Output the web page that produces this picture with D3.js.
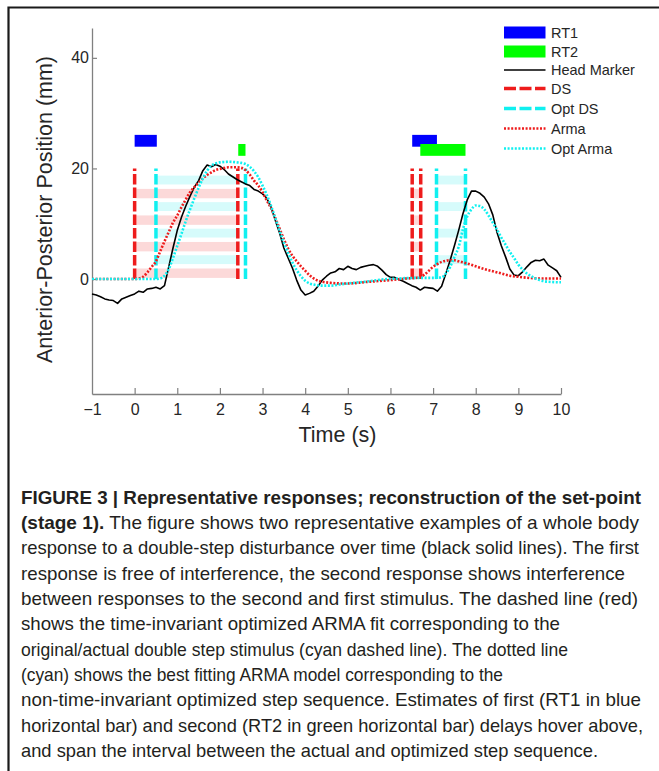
<!DOCTYPE html>
<html><head><meta charset="utf-8">
<script src="https://cdn.jsdelivr.net/npm/d3@7"></script>
<style>
body{margin:0;background:#fff;}
svg{display:block;}
text{font-family:"Liberation Sans",Arial,Helvetica,sans-serif;}
</style></head>
<body>
<script>
// ---------------- data ----------------
const xTicks = [-1,0,1,2,3,4,5,6,7,8,9,10];
const yTicks = [0,20,40];

const headT = d3.range(0,111).map(i=>+(-1+i*0.1).toFixed(1));
const headV = [
 -2.7,-2.9,-3.2,-3.6,-3.8,-3.9,-4.4,-3.6,-3.3,-3.0,
 -2.7,-2.2,-2.4,-1.8,-1.7,-1.5,-1.8,-1.2, 2.2, 5.6,
  8.8,11.2,13.2,15.0,16.6,17.8,19.6,20.6,20.3,20.7,
 20.4,19.8,19.0,18.5,18.0,17.6,17.2,16.9,16.2,15.9,
 15.4,14.6,13.0,10.6, 8.3, 5.6, 3.8, 2.0,-0.2,-2.0,
 -2.9,-2.6,-2.2,-1.3,-0.2, 0.5, 1.1, 1.3, 1.9, 1.7,
  2.3, 1.9, 1.7, 2.1, 2.3, 2.5, 2.6, 2.3, 1.6, 0.8,
  0.3, 0.3,-0.1,-0.4,-0.8,-1.2,-1.5,-2.0,-1.5,-1.6,
 -1.7,-2.2,-1.3, 1.0, 3.4, 6.0, 8.8,11.8,14.3,15.9,
 15.9,15.5,14.8,13.6,11.6, 8.4, 6.0, 4.0, 1.8, 0.7,
  0.6, 1.3, 2.2, 3.0, 3.4, 3.3, 3.6, 2.5, 2.0, 1.5, 0.3
];

const armaT = [-1,-0.5,0,0.1,0.2,0.3,0.4,0.5,0.6,0.7,0.8,0.9,1.0,1.1,1.2,1.3,1.4,1.5,1.6,1.7,1.8,1.9,2.0,2.2,2.4,2.5,2.6,2.7,2.8,2.9,3.0,3.1,3.2,3.3,3.4,3.5,3.6,3.7,3.8,3.9,4.0,4.1,4.2,4.3,4.4,4.6,4.8,5.0,5.5,6.0,6.4,6.6,6.7,6.8,6.9,7.0,7.1,7.2,7.3,7.4,7.5,7.6,7.8,8.0,8.2,8.4,8.6,8.8,9.0,9.5,10];
const armaV = [0,0,0,0.1,0.4,1.2,2.2,3.2,5.0,6.8,8.5,10.2,11.5,13.0,14.4,15.7,16.6,17.4,18.2,18.8,19.3,19.7,19.9,20.2,20.2,20.1,19.7,18.9,17.8,16.9,15.7,14.2,12.8,11.0,9.1,7.2,5.5,4.2,3.2,2.3,1.5,0.7,0.1,-0.3,-0.5,-0.7,-0.8,-0.8,-0.5,-0.2,0.1,0.2,0.4,0.8,1.5,2.2,2.7,3.1,3.3,3.4,3.4,3.2,2.8,2.3,1.8,1.4,1.0,0.6,0.4,0.1,0.1];

const optArmaT = [-1,-0.5,0,0.5,0.6,0.7,0.8,0.9,1.0,1.1,1.2,1.3,1.4,1.5,1.6,1.7,1.8,1.9,2.0,2.2,2.4,2.5,2.6,2.7,2.8,2.9,3.0,3.1,3.2,3.3,3.4,3.5,3.6,3.7,3.8,3.9,4.0,4.1,4.2,4.4,4.6,4.8,5.0,5.4,5.8,6.2,6.6,7.0,7.2,7.3,7.4,7.5,7.6,7.7,7.8,7.9,8.0,8.1,8.2,8.3,8.4,8.5,8.6,8.7,8.8,8.9,9.0,9.1,9.2,9.3,9.4,9.5,9.7,10];
const optArmaV = [0,0,0,0,0.1,0.6,1.8,3.8,6.0,8.2,10.5,12.6,14.6,16.5,18.2,19.6,20.5,20.9,21.1,21.2,21.1,21.0,20.8,20.3,19.5,18.4,16.9,15.2,13.2,11.0,8.7,6.6,4.7,3.0,1.6,0.5,-0.3,-0.8,-1.0,-1.2,-1.2,-1.0,-0.8,-0.5,-0.1,0.1,0.2,0.2,0.3,1.0,2.2,4.0,5.8,9.0,11.3,12.6,13.3,13.2,12.6,11.5,10.2,8.9,7.5,6.2,4.9,3.8,2.6,1.7,1.0,0.5,0.1,-0.2,-0.5,-0.6];

const dsTimes = [0, 2.42, 6.51, 6.71];
const optDsTimes = [0.5, 2.6, 7.08, 7.76];
const stepLevel = 20;
const pinkSpans = [[0, 2.42],[6.51, 6.71]];
const cyanSpans = [[0.5, 2.42],[7.08, 7.76]];
const rt1Spans = [[0, 0.52],[6.51, 7.09]];
const rt2Spans = [[2.43, 2.6],[6.70, 7.76]];
const rt1Level = 25.0;
const rt2Level = 23.35;

const legendItems = ["RT1","RT2","Head Marker","DS","Opt DS","Arma","Opt Arma"];

const captionLines = [
 [{b:true,t:"FIGURE 3 | Representative responses; reconstruction of the set-point"}],
 [{b:true,t:"(stage 1)."},{b:false,t:" The figure shows two representative examples of a whole body"}],
 [{b:false,t:"response to a double-step disturbance over time (black solid lines). The first"}],
 [{b:false,t:"response is free of interference, the second response shows interference"}],
 [{b:false,t:"between responses to the second and first stimulus. The dashed line (red)"}],
 [{b:false,t:"shows the time-invariant optimized ARMA fit corresponding to the"}],
 [{b:false,t:"original/actual double step stimulus (cyan dashed line). The dotted line"}],
 [{b:false,t:"(cyan) shows the best fitting ARMA model corresponding to the"}],
 [{b:false,t:"non-time-invariant optimized step sequence. Estimates of first (RT1 in blue"}],
 [{b:false,t:"horizontal bar) and second (RT2 in green horizontal bar) delays hover above,"}],
 [{b:false,t:"and span the interval between the actual and optimized step sequence."}]
];
const captionWidths = [620,618,618,604,617,539,547,482,620,622,577];

// ---------------- drawing ----------------
const W=659,H=771;
const svg=d3.select("body").append("svg").attr("width",W).attr("height",H);

// frame
svg.append("path").attr("d","M8.5,790 L8.5,7.5 L670,7.5").attr("fill","none").attr("stroke","#1a1a1a").attr("stroke-width",2.2);

const x=d3.scaleLinear().domain([-1,10]).range([92,561]);
const y=d3.scaleLinear().domain([-20.8,45.4]).range([394,28]);

const RED="#ee1c1c", CYAN="#10f0f0";

// stripes
const period=4.8;
const g=svg.append("g");
function stripes(spans, base, thick, color){
  spans.forEach(s=>{
    for(let i=0;i<4;i++){
      const lo=base+i*period, hi=lo+thick;
      if(hi>stepLevel) continue;
      g.append("rect").attr("x",x(s[0])).attr("width",x(s[1])-x(s[0]))
        .attr("y",y(hi)).attr("height",y(lo)-y(hi)).attr("fill",color);
    }
  });
}
stripes(pinkSpans,0.2,1.7,"#fcd9d9");
stripes(cyanSpans,2.7,1.6,"#d6fbfb");

// axes
const axG=svg.append("g");
const xAxis=d3.axisBottom(x).tickValues(xTicks).tickSize(-6).tickSizeOuter(0).tickPadding(10)
  .tickFormat(d=>d<0?"\u2212"+Math.abs(d):String(d));
const xa=axG.append("g").attr("transform","translate(0,394)").call(xAxis);
const yAxis=d3.axisLeft(y).tickValues(yTicks).tickSize(-5).tickSizeOuter(0).tickPadding(3);
const ya=axG.append("g").attr("transform","translate(92,0)").call(yAxis);
[xa,ya].forEach(a=>{
  a.select(".domain").attr("stroke","#808080").attr("stroke-width",1.3);
  a.selectAll(".tick line").attr("stroke","#808080").attr("stroke-width",1.2);
  a.selectAll(".tick text").attr("fill","#262626").style("font-size","16px").style("font-family","'Liberation Sans',Arial,sans-serif");
});
xa.selectAll(".tick").filter(d=>d===-1).select("line").remove();

svg.append("text").attr("x",337.5).attr("y",442).attr("text-anchor","middle")
  .style("font-size","21.5px").attr("fill","#262626").text("Time (s)");
svg.append("text").attr("transform","translate(51.5,209.5) rotate(-90)").attr("text-anchor","middle")
  .style("font-size","21.5px").attr("fill","#262626").text("Anterior-Posterior Position (mm)");

// DS lines
const dashes="10.5,3";
svg.append("g").selectAll("line").data(dsTimes).join("line")
  .attr("x1",d=>x(d)).attr("x2",d=>x(d)).attr("y1",y(0)).attr("y2",y(stepLevel))
  .attr("stroke",RED).attr("stroke-width",3.5).attr("stroke-dasharray",dashes);
svg.append("g").selectAll("line").data(optDsTimes).join("line")
  .attr("x1",d=>x(d)).attr("x2",d=>x(d)).attr("y1",y(0)).attr("y2",y(stepLevel))
  .attr("stroke",CYAN).attr("stroke-width",3.5).attr("stroke-dasharray",dashes);

// Head marker
const line=d3.line().x(d=>x(d[0])).y(d=>y(d[1]));
svg.append("path").datum(headT.map((t,i)=>[t,headV[i]])).attr("d",line)
  .attr("fill","none").attr("stroke","#000").attr("stroke-width",1.6).attr("stroke-linejoin","round");

// Arma curves
const smooth=d3.line().x(d=>x(d[0])).y(d=>y(d[1])).curve(d3.curveMonotoneX);
svg.append("path").datum(armaT.map((t,i)=>[t,armaV[i]])).attr("d",smooth)
  .attr("fill","none").attr("stroke",RED).attr("stroke-width",2.6).attr("stroke-dasharray","2,1.6");
svg.append("path").datum(optArmaT.map((t,i)=>[t,optArmaV[i]])).attr("d",smooth)
  .attr("fill","none").attr("stroke",CYAN).attr("stroke-width",2.6).attr("stroke-dasharray","2,1.6");

// RT bars
const barHalf=1.07;
svg.append("g").selectAll("rect").data(rt1Spans).join("rect")
  .attr("x",d=>x(d[0])).attr("width",d=>x(d[1])-x(d[0]))
  .attr("y",y(rt1Level+barHalf)).attr("height",y(rt1Level-barHalf)-y(rt1Level+barHalf)).attr("fill","#0000ff");
svg.append("g").selectAll("rect").data(rt2Spans).join("rect")
  .attr("x",d=>x(d[0])).attr("width",d=>x(d[1])-x(d[0]))
  .attr("y",y(rt2Level+barHalf)).attr("height",y(rt2Level-barHalf)-y(rt2Level+barHalf)).attr("fill","#00ff00");

// legend
const lg=svg.append("g");
const ly=[32.5,51.5,70,88.5,108.5,128.5,148.5];
const lx0=504,lx1=545.5;
legendItems.forEach((name,i)=>{
  const yy=ly[i];
  if(i===0||i===1){
    lg.append("rect").attr("x",lx0).attr("y",yy-6).attr("width",lx1-lx0).attr("height",12)
      .attr("fill",i===0?"#0000ff":"#00ff00");
  } else {
    const ln=lg.append("line").attr("x1",lx0).attr("x2",lx1).attr("y1",yy).attr("y2",yy);
    if(i===2) ln.attr("stroke","#000").attr("stroke-width",1.6);
    if(i===3) ln.attr("stroke",RED).attr("stroke-width",3.5).attr("stroke-dasharray","12,3.5");
    if(i===4) ln.attr("stroke",CYAN).attr("stroke-width",3.5).attr("stroke-dasharray","12,3.5");
    if(i===5) ln.attr("stroke",RED).attr("stroke-width",2.6).attr("stroke-dasharray","2,1.6");
    if(i===6) ln.attr("stroke",CYAN).attr("stroke-width",2.6).attr("stroke-dasharray","2,1.6");
  }
  lg.append("text").attr("x",551).attr("y",yy).attr("dy","0.35em").style("font-size","14.5px")
    .attr("fill","#262626").text(name);
});

// caption
const cg=svg.append("g");
captionLines.forEach((parts,i)=>{
  const t=cg.append("text").attr("x",21).attr("y",503.5+i*25.35)
    .attr("textLength",captionWidths[i]).attr("lengthAdjust","spacingAndGlyphs")
    .style("font-family","'Liberation Sans Narrow','Arial Narrow','Liberation Sans',Arial,sans-serif")
    .style("font-size","18.5px").attr("fill","#231f20");
  parts.forEach(p=>t.append("tspan").attr("font-weight",p.b?"bold":"normal").text(p.t));
});
</script>
</body></html>
